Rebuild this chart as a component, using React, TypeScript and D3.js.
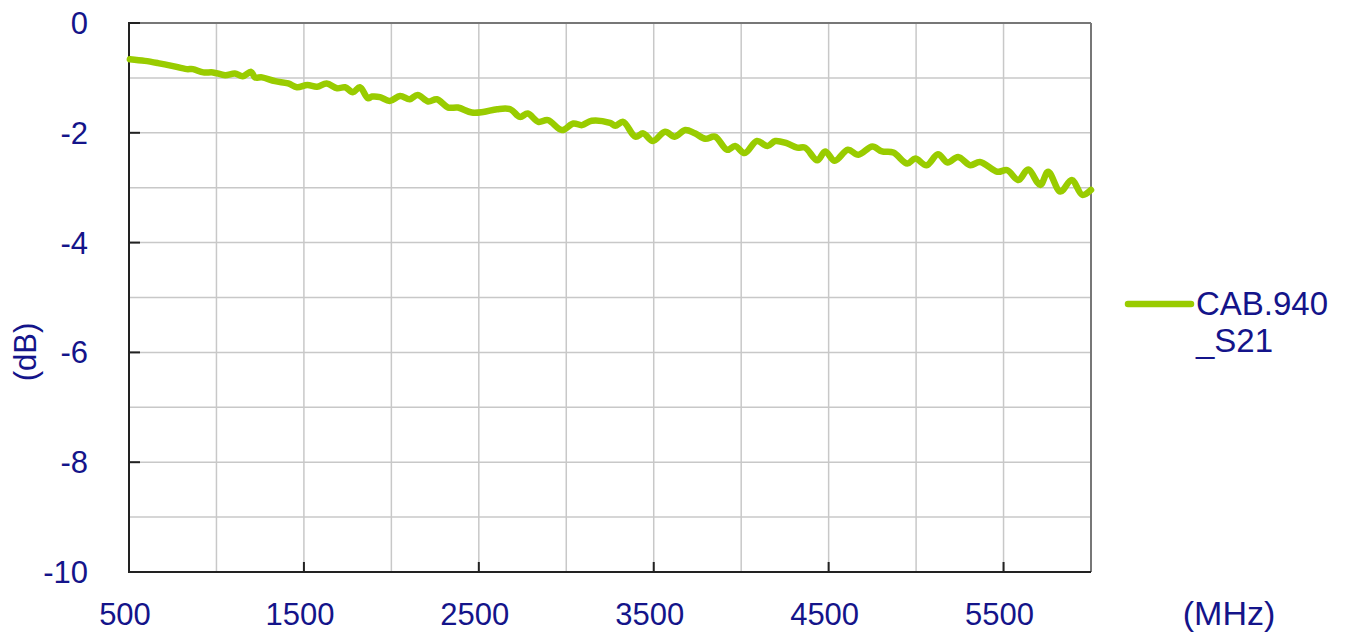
import { useEffect, useRef } from "react";
import * as d3 from "d3";

// S21 trace (MHz, dB)
const freqMHz = [
  505, 590, 665, 745, 830, 865, 925, 980, 1050, 1105, 1150, 1198, 1220, 1260,
  1335, 1410, 1460, 1520, 1575, 1630, 1690, 1735, 1780, 1820, 1866, 1890, 1935,
  1990, 2050, 2105, 2150, 2210, 2260, 2325, 2380, 2460, 2525, 2605, 2680, 2735,
  2780, 2840, 2895, 2975, 3040, 3090, 3145, 3250, 3280, 3325, 3395, 3440, 3495,
  3565, 3620, 3680, 3735, 3795, 3850, 3920, 3965, 4020, 4090, 4150, 4195, 4260,
  4320, 4365, 4435, 4480, 4535, 4610, 4670, 4750, 4805, 4870, 4950, 4995, 5060,
  5125, 5180, 5240, 5310, 5365, 5465, 5520, 5585, 5640, 5710, 5755, 5825, 5890,
  5950, 6000,
];
const s21dB = [
  -0.66, -0.69, -0.73, -0.78, -0.84, -0.84, -0.9, -0.9, -0.95, -0.92, -0.97,
  -0.89, -0.99, -0.99, -1.06, -1.1, -1.17, -1.13, -1.16, -1.1, -1.19, -1.17,
  -1.26, -1.17, -1.37, -1.34, -1.35, -1.42, -1.33, -1.39, -1.31, -1.43, -1.39,
  -1.54, -1.54, -1.63, -1.62, -1.57, -1.57, -1.71, -1.65, -1.8, -1.77, -1.95,
  -1.83, -1.86, -1.78, -1.82, -1.87, -1.8, -2.07, -2.01, -2.15, -1.98, -2.07,
  -1.95, -2.01, -2.11, -2.07, -2.31, -2.24, -2.37, -2.15, -2.24, -2.15, -2.19,
  -2.27, -2.27, -2.5, -2.34, -2.51, -2.31, -2.4, -2.25, -2.34, -2.36, -2.56,
  -2.47, -2.59, -2.39, -2.54, -2.44, -2.59, -2.53, -2.71, -2.68, -2.86, -2.67,
  -2.95, -2.71, -3.07, -2.86, -3.13, -3.04,
];

const xTickLabels = [500, 1500, 2500, 3500, 4500, 5500];
const yTickLabels = [0, -2, -4, -6, -8, -10];
const seriesName = ["CAB.940", "_S21"];

const W = 1349;
const H = 635;
const M = { left: 129, right: 1091, top: 23, bottom: 572 };
const TEXT = "#14148a";
const LINE = "#99cc00";
const FONT = "'Liberation Sans', Arial, sans-serif";

export default function App() {
  const ref = useRef<SVGSVGElement>(null);

  useEffect(() => {
    document.body.style.margin = "0";
    const svg = d3.select(ref.current);
    svg.selectAll("*").remove();

    const x = d3.scaleLinear().domain([500, 6000]).range([M.left, M.right]);
    const y = d3.scaleLinear().domain([-10, 0]).range([M.bottom, M.top]);

    const g = svg.append("g");

    // grid
    g.selectAll(".gx")
      .data(d3.range(1000, 6000, 500))
      .join("line")
      .attr("x1", (d) => x(d))
      .attr("x2", (d) => x(d))
      .attr("y1", M.top)
      .attr("y2", M.bottom)
      .attr("stroke", "#c8c8c8")
      .attr("stroke-width", 1.5);
    g.selectAll(".gy")
      .data(d3.range(-9, 0, 1))
      .join("line")
      .attr("y1", (d) => y(d))
      .attr("y2", (d) => y(d))
      .attr("x1", M.left)
      .attr("x2", M.right)
      .attr("stroke", "#c8c8c8")
      .attr("stroke-width", 1.5);

    // frame
    g.append("line")
      .attr("x1", M.left).attr("x2", M.right)
      .attr("y1", M.top).attr("y2", M.top)
      .attr("stroke", "#777").attr("stroke-width", 2);
    g.append("line")
      .attr("x1", M.right).attr("x2", M.right)
      .attr("y1", M.top).attr("y2", M.bottom)
      .attr("stroke", "#777").attr("stroke-width", 2);
    g.append("line")
      .attr("x1", M.left).attr("x2", M.left)
      .attr("y1", M.top - 1).attr("y2", M.bottom + 1)
      .attr("stroke", "#222").attr("stroke-width", 2);
    g.append("line")
      .attr("x1", M.left - 1).attr("x2", M.right)
      .attr("y1", M.bottom).attr("y2", M.bottom)
      .attr("stroke", "#222").attr("stroke-width", 2);

    // inward ticks
    g.selectAll(".ty")
      .data(yTickLabels)
      .join("line")
      .attr("x1", M.left)
      .attr("x2", M.left + 11)
      .attr("y1", (d) => y(d))
      .attr("y2", (d) => y(d))
      .attr("stroke", "#222")
      .attr("stroke-width", 2);
    g.selectAll(".tx")
      .data(xTickLabels)
      .join("line")
      .attr("x1", (d) => x(d))
      .attr("x2", (d) => x(d))
      .attr("y1", M.bottom)
      .attr("y2", M.bottom - 10)
      .attr("stroke", "#222")
      .attr("stroke-width", 2);

    // tick labels
    g.selectAll(".ly")
      .data(yTickLabels)
      .join("text")
      .attr("x", 88)
      .attr("y", (d) => y(d) + 11)
      .attr("text-anchor", "end")
      .attr("font-family", FONT)
      .attr("font-size", 31)
      .attr("fill", TEXT)
      .text((d) => String(d));
    g.selectAll(".lx")
      .data(xTickLabels)
      .join("text")
      .attr("x", (d) => x(d) - 4)
      .attr("y", 625)
      .attr("text-anchor", "middle")
      .attr("font-family", FONT)
      .attr("font-size", 31)
      .attr("fill", TEXT)
      .text((d) => String(d));

    // axis titles
    g.append("text")
      .attr("x", 1229)
      .attr("y", 625)
      .attr("text-anchor", "middle")
      .attr("font-family", FONT)
      .attr("font-size", 34)
      .attr("fill", TEXT)
      .text("(MHz)");
    g.append("text")
      .attr("transform", "translate(36,352) rotate(-90)")
      .attr("text-anchor", "middle")
      .attr("font-family", FONT)
      .attr("font-size", 31)
      .attr("fill", TEXT)
      .text("(dB)");

    // series
    const pts = freqMHz.map((f, i) => [f, s21dB[i]] as [number, number]);
    const line = d3
      .line<[number, number]>()
      .x((d) => x(d[0]))
      .y((d) => y(d[1]))
      .curve(d3.curveCatmullRom.alpha(0.5));
    g.append("path")
      .datum(pts)
      .attr("d", line)
      .attr("fill", "none")
      .attr("stroke", LINE)
      .attr("stroke-width", 6.5)
      .attr("stroke-linejoin", "round")
      .attr("stroke-linecap", "round");

    // legend
    g.append("line")
      .attr("x1", 1128)
      .attr("x2", 1191)
      .attr("y1", 304)
      .attr("y2", 304)
      .attr("stroke", LINE)
      .attr("stroke-width", 6.5)
      .attr("stroke-linecap", "round");
    g.selectAll(".lg")
      .data(seriesName)
      .join("text")
      .attr("x", 1196)
      .attr("y", (_, i) => 315 + i * 37)
      .attr("font-family", FONT)
      .attr("font-size", 33)
      .attr("fill", TEXT)
      .text((d) => d);
  }, []);

  return (
    <svg
      ref={ref}
      width={W}
      height={H}
      style={{ position: "absolute", left: 0, top: 0, background: "#fff" }}
    />
  );
}
